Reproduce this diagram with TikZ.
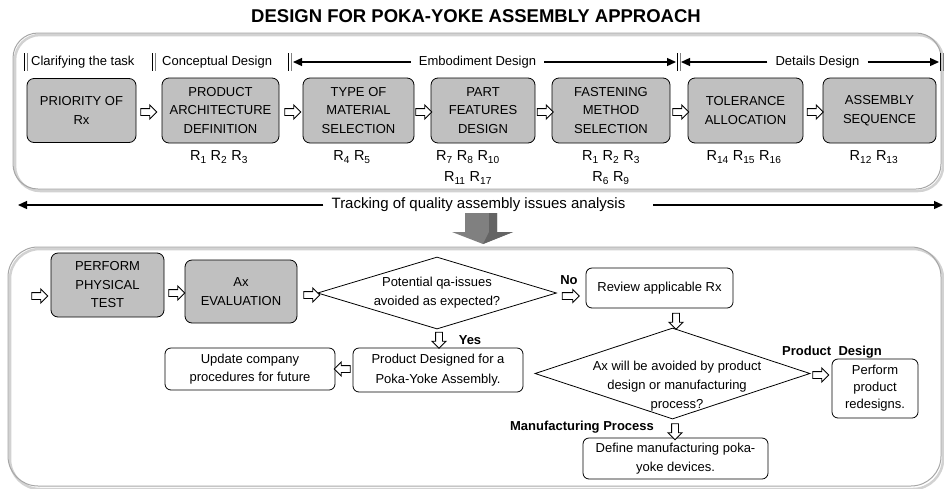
\documentclass[tikz,border=0pt]{standalone}
\usepackage{fontspec}
\setmainfont{Liberation Sans}
\usetikzlibrary{shapes.geometric,shapes.arrows,arrows.meta,calc}
\definecolor{boxgray}{RGB}{192,192,192}
\definecolor{bigarrow}{RGB}{128,128,128}
\definecolor{bigarrowdark}{RGB}{100,100,100}
\begin{document}
\begin{tikzpicture}[x=1pt,y=-1pt,
  graybox/.style={draw, line width=0.8pt, fill=boxgray, rounded corners=7pt, align=center, font=\fontsize{13}{18.5}\selectfont, inner sep=0pt},
  whitebox/.style={draw, line width=0.8pt, fill=white, rounded corners=6pt, align=center, font=\fontsize{13}{18.5}\selectfont, inner sep=0pt},
  dia/.style={diamond, draw, line width=0.8pt, fill=white, inner sep=0pt},
  txt/.style={align=center, font=\fontsize{13}{19}\selectfont, inner sep=0pt},
  blab/.style={font=\bfseries\fontsize{13}{15}\selectfont, inner sep=0pt},
  rlab/.style={align=center, font=\fontsize{14.5}{21}\selectfont, inner sep=0pt},
  stage/.style={font=\fontsize{13}{15}\selectfont, inner xsep=8pt, inner ysep=0pt},
  stagearrow/.style={line width=1.3pt, -{Triangle[length=9pt,width=8pt]}},
  harrow/.style={single arrow, draw, fill=white, line width=0.9pt, minimum height=16pt, inner sep=3pt, single arrow head extend=3.5pt},
  framelight/.style={gray!35, line width=2.5pt},
  framedark/.style={gray!70, line width=1pt}
]
\useasboundingbox (0,0) rectangle (944,488);

% title
\node[font=\bfseries\fontsize{18.5}{20}\selectfont, inner sep=0pt] (title) at (476,16) {DESIGN FOR POKA-YOKE ASSEMBLY APPROACH};

% frames
\draw[framelight, rounded corners=25pt] (15,35) rectangle (943,191);
\draw[framedark, rounded corners=25pt] (13,33) rectangle (941,189);
\draw[framelight, rounded corners=30pt] (10,249) rectangle (943,489);
\draw[framedark, rounded corners=30pt] (8,247) rectangle (941,486);

% stage labels
\node[stage, anchor=west, inner xsep=0pt] (clar) at (31,62) {Clarifying the task};
\node[stage, anchor=west, inner xsep=0pt] (conc) at (162,62) {Conceptual Design};
\node[stage] (emb) at (477.5,62) {Embodiment Design};
\node[stage] (det) at (817.5,62) {Details Design};
\coordinate (embL) at (293,62);
\coordinate (embR) at (676,62);
\coordinate (detL) at (681,62);
\coordinate (detR) at (939,62);
\draw[stagearrow] (emb.west) -- (embL);
\draw[stagearrow] (emb.east) -- (embR);
\draw[stagearrow] (det.west) -- (detL);
\draw[stagearrow] (det.east) -- (detR);
\foreach \bx in {24,152,288,677,940}{
  \draw[black, line width=1pt] (\bx,53) -- (\bx,71);
  \draw[gray, line width=1pt] (\bx+3,53) -- (\bx+3,71);
}

% top boxes
\node[graybox, minimum width=109pt, minimum height=64pt] (b1) at (81.5,110.5) {PRIORITY OF\\Rx};
\node[graybox, minimum width=117pt, minimum height=65pt] (b2) at (220.5,110.5) {PRODUCT\\ARCHITECTURE\\DEFINITION};
\node[graybox, minimum width=111pt, minimum height=65pt] (b3) at (358.5,110.5) {TYPE OF\\MATERIAL\\SELECTION};
\node[graybox, minimum width=104pt, minimum height=65pt] (b4) at (483,110.5) {PART\\FEATURES\\DESIGN};
\node[graybox, minimum width=118pt, minimum height=65pt] (b5) at (611,110.5) {FASTENING\\METHOD\\SELECTION};
\node[graybox, minimum width=115pt, minimum height=65pt] (b6) at (745.5,110.5) {TOLERANCE\\ALLOCATION};
\node[graybox, minimum width=113pt, minimum height=65pt] (b7) at (879.5,110.5) {ASSEMBLY\\SEQUENCE};

\node[harrow] (t1) at (147,112) {};
\node[harrow] (t2) at (291,112) {};
\node[harrow] (t3) at (422,112) {};
\node[harrow] (t4) at (543.5,112) {};
\node[harrow] (t5) at (679,112) {};
\node[harrow] (t6) at (813.5,112) {};

% R labels
\node[rlab] (rl2) at (219,157) {R\textsubscript{1} R\textsubscript{2} R\textsubscript{3}};
\node[rlab] (rl3) at (352,157) {R\textsubscript{4} R\textsubscript{5}};
\node[rlab] (rl4) at (468,167.5) {R\textsubscript{7} R\textsubscript{8} R\textsubscript{10}\\R\textsubscript{11} R\textsubscript{17}};
\node[rlab] (rl5) at (611,167.5) {R\textsubscript{1} R\textsubscript{2} R\textsubscript{3}\\R\textsubscript{6} R\textsubscript{9}};
\node[rlab] (rl6) at (744,157) {R\textsubscript{14} R\textsubscript{15} R\textsubscript{16}};
\node[rlab] (rl7) at (874,157) {R\textsubscript{12} R\textsubscript{13}};

% tracking line
\node[font=\fontsize{15}{17}\selectfont, inner xsep=8pt, inner ysep=0pt] (trk) at (478.5,205) {Tracking of quality assembly issues analysis};
\coordinate (trkL) at (18,205);
\coordinate (trkR0) at (653,205);
\coordinate (trkR) at (943,205);
\draw[stagearrow] (trk.west) -- (trkL);
\draw[stagearrow] (trkR0) -- (trkR);

% big gray arrow
\fill[bigarrow] (465,213) -- (497,213) -- (497,232) -- (513,232) -- (483,244) -- (452,232) -- (465,232) -- cycle;
\fill[bigarrowdark] (489,213) -- (497,213) -- (497,232) -- (513,232) -- (483,244) -- (489,232) -- cycle;

% bottom flow
\node[graybox, minimum width=113pt, minimum height=64pt] (p1) at (107.5,285) {PERFORM\\PHYSICAL\\TEST};
\node[graybox, minimum width=112pt, minimum height=63pt] (p2) at (241,291.5) {Ax\\EVALUATION};
\node[dia, minimum width=239pt, minimum height=72pt] (d1) at (437,293) {};
\node[txt] (d1t) at (437,293) {Potential qa-issues\\avoided as expected?};
\node[whitebox, minimum width=147pt, minimum height=40pt] (r1) at (659.5,288) {Review applicable Rx};
\node[dia, minimum width=275pt, minimum height=91pt] (d2) at (672.5,373.5) {};
\node[txt] (d2t) at (677,386) {Ax will be avoided by product\\design or manufacturing\\process?};
\node[whitebox, minimum width=86pt, minimum height=59pt, font=\fontsize{13}{17}\selectfont] (r2) at (875,388.5) {Perform\\product\\redesigns.};
\node[whitebox, minimum width=185pt, minimum height=41pt] (r3) at (675.5,458.5) {Define manufacturing poka-\\yoke devices.};
\node[whitebox, minimum width=170pt, minimum height=44pt, font=\fontsize{13}{20}\selectfont] (r4) at (438,370) {Product Designed for a\\Poka-Yoke Assembly.};
\node[whitebox, minimum width=170pt, minimum height=42pt] (r5) at (250,369) {Update company\\procedures for future};

\node[blab] (no) at (569,280) {No};
\node[blab] (yes) at (470,340) {Yes};
\node[blab] (pd) at (832,352) {Product\ \ Design};
\node[blab] (mp) at (582,427) {Manufacturing Process};

\node[harrow] (h0) at (38,296) {};
\node[harrow] (h1) at (175,293) {};
\node[harrow] (h2) at (310,295) {};
\node[harrow, minimum height=17pt, single arrow head extend=3pt] (h3) at (569,296) {};
\node[harrow, shape border rotate=270] (h4) at (676,319.5) {};
\node[harrow] (h5) at (819,375) {};
\node[harrow, shape border rotate=270] (h6) at (675,430) {};
\node[harrow, shape border rotate=270] (h7) at (439,338.5) {};
\node[harrow, shape border rotate=180] (h8) at (344,369) {};
\end{tikzpicture}
\end{document}
